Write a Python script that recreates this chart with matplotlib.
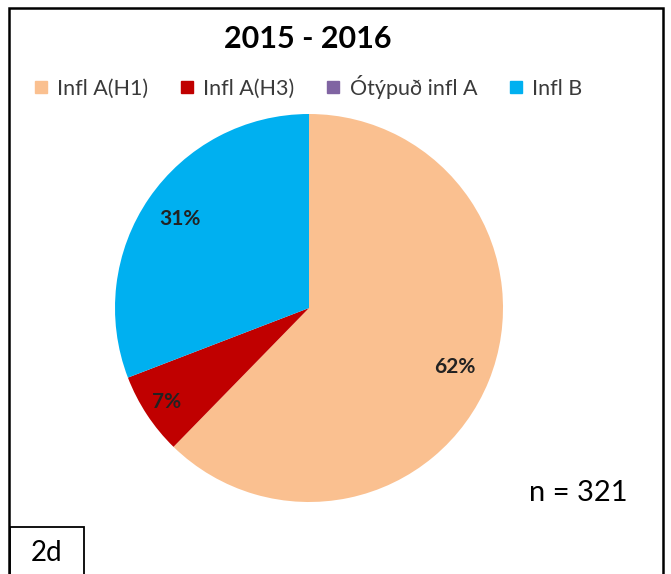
import matplotlib
matplotlib.use("Agg")
import matplotlib.pyplot as plt
from matplotlib.patches import Rectangle
from matplotlib.lines import Line2D

plt.rcParams['font.family'] = ['Lato', 'DejaVu Sans']

title = '2015 - 2016'
categories = ['Infl A(H1)', 'Infl A(H3)', 'Ótýpuð infl A', 'Infl B']
counts = [200, 22, 0, 99]
colors = ['#FAC090', '#C00000', '#8064A2', '#00B0F0']
n_total = 321
panel = '2d'

fig = plt.figure(figsize=(6.71, 5.74), dpi=100)

# pie centred at roughly (309, 308) px with radius ~194 px
cx, cy, r = 309 / 671, 1 - 308 / 574, 194
ax = fig.add_axes([cx - r / 671, cy - r / 574, 2 * r / 671, 2 * r / 574])


def pct_label(p):
    return f'{p:.0f}%' if p > 0.5 else ''


wedges, texts, autotexts = ax.pie(
    counts, colors=colors, startangle=90, counterclock=False,
    autopct=pct_label, pctdistance=0.81,
    wedgeprops=dict(linewidth=0),
    textprops=dict(fontsize=15, fontweight='bold', color='#222222'))
ax.set_xlim(-1, 1)
ax.set_ylim(-1, 1)
# the small H3 label sits a little further out
x, y = autotexts[1].get_position()
autotexts[1].set_position((x * 0.88 / 0.81, y * 0.88 / 0.81))

fig.text(308 / 671, 1 - 39 / 574, title, ha='center', va='center',
         fontsize=22, fontweight='bold', color='black')

handles = [Line2D([], [], marker='s', linestyle='none', markersize=8,
                  markerfacecolor=c, markeredgecolor=c) for c in colors]
fig.legend(handles, categories, loc='center', ncol=4,
           bbox_to_anchor=(308 / 671, 1 - 87 / 574), frameon=False,
           fontsize=15.5, handlelength=0.7, handletextpad=0.4,
           columnspacing=1.45, labelcolor='#3a3a3a')

fig.text(578 / 671, 1 - 493 / 574, f'n = {n_total}', ha='center', va='center',
         fontsize=21, color='black')

# outer frame
fig.add_artist(Rectangle((9 / 671, -0.05), 654 / 671, 1.05 - 8 / 574,
                         transform=fig.transFigure, fill=False,
                         edgecolor='black', linewidth=1.8))
# panel tag box
fig.add_artist(Rectangle((10 / 671, -0.05), 74 / 671, 0.05 + 47 / 574,
                         transform=fig.transFigure, fill=False,
                         edgecolor='black', linewidth=1.3))
fig.text(47 / 671, 1 - 553 / 574, panel, ha='center', va='center',
         fontsize=20, color='black')

fig.savefig('out.png', dpi=100)
